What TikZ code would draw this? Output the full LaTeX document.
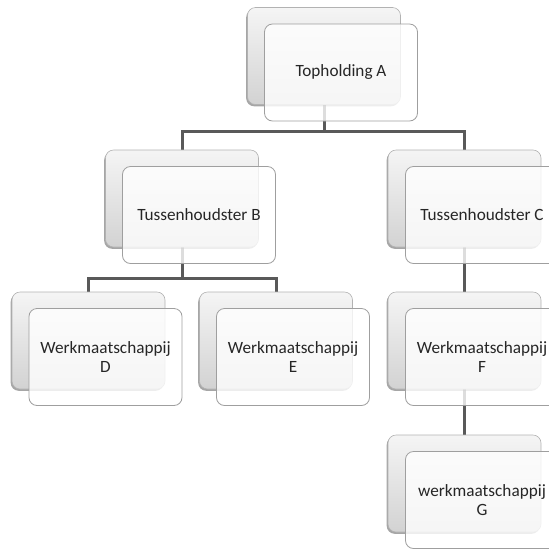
\documentclass[tikz,border=0pt]{standalone}
\usepackage{fontspec}
\setmainfont{Carlito}
\usetikzlibrary{shadows,calc}
\begin{document}
\begin{tikzpicture}[x=1pt,y=-1pt,
 backbox/.style={rectangle,rounded corners=8pt,minimum width=153pt,minimum height=97pt,inner sep=0pt,
   draw=gray!60,line width=0.6pt,top color=gray!8,bottom color=gray!35,
   drop shadow={shadow xshift=-1.3pt,shadow yshift=-1.8pt,opacity=0.35,fill=black}},
 frontbox/.style={rectangle,rounded corners=8pt,minimum width=153pt,minimum height=97pt,inner sep=2pt,
   draw=gray!75,line width=0.8pt,fill=white,fill opacity=0.8,text opacity=1,align=center,
   font=\fontsize{17.2}{19}\selectfont,text=black!85},
 conn/.style={draw=black!65,line width=3pt}]
\useasboundingbox (0,0) rectangle (549,550);
\clip (0,0) rectangle (549,550);
% junctions
\coordinate (jA) at (324,131);
\coordinate (jB) at (182,278);
% back box positions
\path (324,56) coordinate (pA)
      (182,198.5) coordinate (pB)
      (464.5,198.5) coordinate (pC)
      (88.5,340.5) coordinate (pD)
      (276,340.5) coordinate (pE)
      (464.5,340.5) coordinate (pF)
      (464.5,483.5) coordinate (pG);
% invisible anchors for connectors
\path (pA) node[minimum width=153pt,minimum height=97pt] (Ab0) {}
      (pB) node[minimum width=153pt,minimum height=97pt] (Bb0) {}
      (pC) node[minimum width=153pt,minimum height=97pt] (Cb0) {}
      (pD) node[minimum width=153pt,minimum height=97pt] (Db0) {}
      (pE) node[minimum width=153pt,minimum height=97pt] (Eb0) {}
      (pF) node[minimum width=153pt,minimum height=97pt] (Fb0) {}
      (pG) node[minimum width=153pt,minimum height=97pt] (Gb0) {};
\draw[conn] (Ab0.south) -- (jA);
\draw[conn] (jA) -| (Bb0.north);
\draw[conn] (jA) -| (Cb0.north);
\draw[conn] (Bb0.south) -- (jB);
\draw[conn] (jB) -| (Db0.north);
\draw[conn] (jB) -| (Eb0.north);
\draw[conn] (Cb0.south) -- (Fb0.north);
\draw[conn] (Fb0.south) -- (Gb0.north);
% boxes
\node[backbox] (Ab) at (pA) {};
\node[frontbox] (Af) at ($(pA)+(17,16.5)$) {Topholding A};
\node[backbox] (Bb) at (pB) {};
\node[frontbox] (Bf) at ($(pB)+(17,16.5)$) {Tussenhoudster B};
\node[backbox] (Cb) at (pC) {};
\node[frontbox] (Cf) at ($(pC)+(17.5,16.5)$) {Tussenhoudster C};
\node[backbox] (Db) at (pD) {};
\node[frontbox] (Df) at ($(pD)+(17,16.5)$) {Werkmaatschappij\\D};
\node[backbox] (Eb) at (pE) {};
\node[frontbox] (Ef) at ($(pE)+(17,16.5)$) {Werkmaatschappij\\E};
\node[backbox] (Fb) at (pF) {};
\node[frontbox] (Ff) at ($(pF)+(17.5,16.5)$) {Werkmaatschappij\\F};
\node[backbox] (Gb) at (pG) {};
\node[frontbox] (Gf) at ($(pG)+(17.5,16.5)$) {werkmaatschappij\\G};
\end{tikzpicture}
\end{document}
